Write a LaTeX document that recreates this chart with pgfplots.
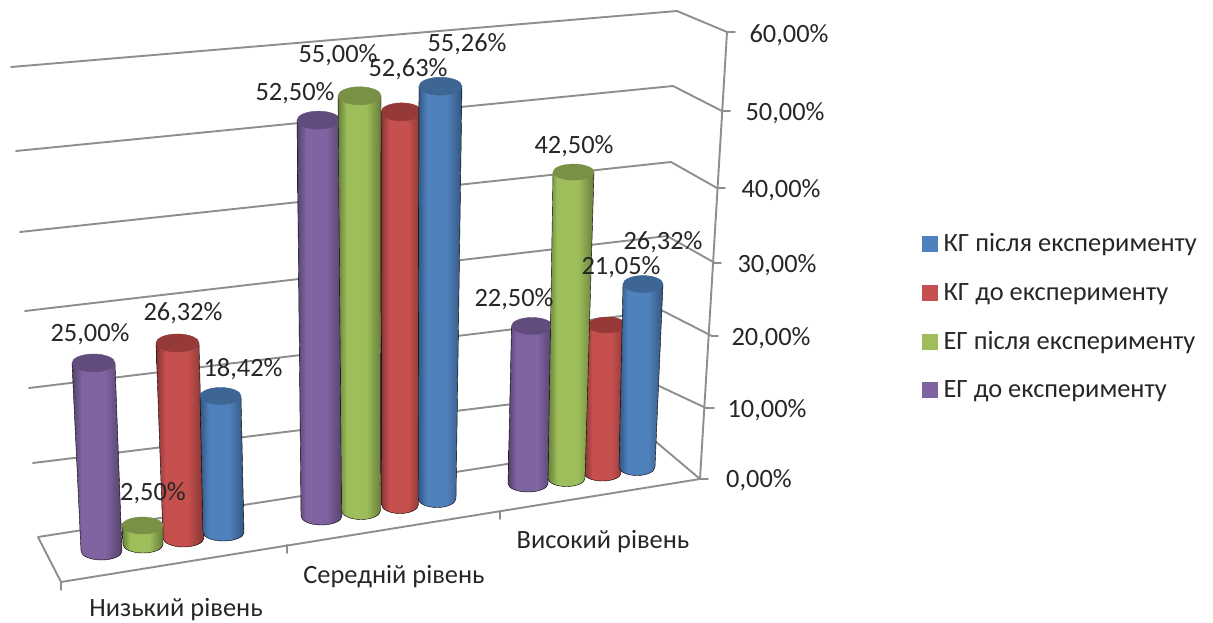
\documentclass[border=0pt]{standalone}
\usepackage{pgfplots}
\usepackage{pgfplotstable}
\usepackage{fontspec}
\pgfplotsset{compat=1.18}
\setmainfont{Carlito}

\definecolor{axisgray}{HTML}{8E8E8E}
\definecolor{labeltext}{HTML}{262626}
\definecolor{blueC}{HTML}{4F81BD}
\definecolor{redC}{HTML}{C6504E}
\definecolor{greenC}{HTML}{9DBE5A}
\definecolor{purpleC}{HTML}{8064A2}
\definecolor{blueCap}{HTML}{3D6695}
\definecolor{redCap}{HTML}{953A38}
\definecolor{greenCap}{HTML}{799145}
\definecolor{purpleCap}{HTML}{624C7E}

% Side shading of the cylinder bodies: dark rims, a flat light middle
\pgfdeclarehorizontalshading{blueBody}{100bp}{color(0bp)=(blueC!66!black); color(25bp)=(blueC!66!black); color(35bp)=(blueC); color(58bp)=(blueC); color(75bp)=(blueC!66!black); color(100bp)=(blueC!66!black)}
\pgfdeclarehorizontalshading{redBody}{100bp}{color(0bp)=(redC!66!black); color(25bp)=(redC!66!black); color(35bp)=(redC); color(58bp)=(redC); color(75bp)=(redC!66!black); color(100bp)=(redC!66!black)}
\pgfdeclarehorizontalshading{greenBody}{100bp}{color(0bp)=(greenC!66!black); color(25bp)=(greenC!66!black); color(35bp)=(greenC); color(58bp)=(greenC); color(75bp)=(greenC!66!black); color(100bp)=(greenC!66!black)}
\pgfdeclarehorizontalshading{purpleBody}{100bp}{color(0bp)=(purpleC!66!black); color(25bp)=(purpleC!66!black); color(35bp)=(purpleC); color(58bp)=(purpleC); color(75bp)=(purpleC!66!black); color(100bp)=(purpleC!66!black)}

\pgfdeclareplotmark{blank}{}

% One cylinder, drawn from the top centre down to the base
\newcommand{\drawcyl}[2]{%
  \path[shading=#1]
    (-\rt pt,0pt) -- (\dx pt-\rb pt,-\barh pt)
    arc[start angle=180,end angle=360,x radius=\rb pt,y radius=\ry pt]
    -- (\rt pt,0pt) -- cycle;
  \fill[#2] (0pt,0pt) ellipse[x radius=\rt pt,y radius=\ry pt];
}

% value, base centre (xb,yb), pixels per percent up (k) and sideways (l), radii
\pgfplotstableread{
v     xb     yb     k     l      rb    rt    ry
25.00 101.5  551.0  7.52  0.320  20.5  21.5  9
52.50 321.5  516.0  7.54  0.057  20.5  21.5  9
22.50 528.0  483.5  7.00 -0.178  20.0  20.5  8.5
}\egBefore

\pgfplotstableread{
v     xb     yb     k     l      rb    rt    ry
2.50  143.0  544.5  7.60  0.200  20.0  20.5  8.5
55.00 361.0  510.5  7.54  0.027  19.5  21.5  9
42.50 566.5  478.5  7.21 -0.165  18.5  20.5  8
}\egAfter

\pgfplotstableread{
v     xb     yb     k     l      rb    rt    ry
26.32 183.5  538.0  7.41  0.228  20.5  21.5  9
52.63 400.0  504.5  7.46 -0.029  18.5  20.5  9
21.05 602.5  473.0  7.03 -0.214  18.5  19.0  8
}\kgBefore

\pgfplotstableread{
v     xb     yb     k     l      rb    rt    ry
18.42 223.5  532.5  7.41  0.163  20.5  20.5  8.5
55.26 437.0  498.5  7.46 -0.063  19.0  21.5  9
26.32 637.0  467.0  6.95 -0.228  18.0  20.0  8.5
}\kgAfter

% Data labels: value and the centre of its text
\pgfplotstableread{
v     lx   ly
25.00 90   333
26.32 183  312
18.42 243  368
2.50  153  492
52.50 295  92
55.00 338  54
52.63 408  68
55.26 467  43
42.50 574  145
26.32 663  241
21.05 621  266
22.50 514  298
}\barlabels

% Value axis labels
\pgfplotstableread{
v     lx   ly
60    789  34
50    785  112
40    781  189
30    777  264
20    771  337
10    767  409
0     759  479
}\ticklabels

\begin{document}
\begin{tikzpicture}
\useasboundingbox (0pt,0pt) rectangle (1213pt,623pt);
\begin{axis}[
  at={(0pt,0pt)}, anchor=south west,
  x=1pt, y=1pt, xmin=0, xmax=1213, ymin=0, ymax=623,
  y dir=reverse, hide axis, clip=false,
  /pgf/number format/assume math mode=true,
  cyl/.style 2 args={
    only marks, scatter, mark=blank, point meta=\thisrow{v},
    visualization depends on={\thisrow{v}*\thisrow{k} \as \barh},
    visualization depends on={\thisrow{v}*\thisrow{l} \as \dx},
    visualization depends on={\thisrow{rb} \as \rb},
    visualization depends on={\thisrow{rt} \as \rt},
    visualization depends on={\thisrow{ry} \as \ry},
    scatter/@pre marker code/.code={\drawcyl{#1}{#2}\scope},
    scatter/@post marker code/.code={\endscope},
    forget plot
  },
  wall/.style={axisgray, line width=1.9pt, line cap=round, line join=round, no marks, forget plot},
  valuelabels/.style={
    only marks, mark=blank, forget plot, point meta=\thisrow{v},
    nodes near coords={\pgfmathprintnumber[fixed,fixed zerofill,precision=2,use comma]{\pgfplotspointmeta}\%},
    nodes near coords style={anchor=center, inner sep=0pt, yshift=-1pt, text=labeltext, font=\fontsize{26.4}{26.4}\selectfont}
  },
  legend style={
    at={(axis cs:922,231.5)}, anchor=north west, draw=none, fill=none,
    inner sep=0pt, row sep=25.8pt, font=\fontsize{26.4}{30}\selectfont,
    text=labeltext, cells={anchor=west},
    /tikz/every odd column/.style={column sep=4pt}
  },
]
% Back walls: gridlines running along the back and along the right side
\addplot[wall] coordinates {(11,67) (677,11) (727,32)};
\addplot[wall] coordinates {(16,151) (673,86) (722,111)};
\addplot[wall] coordinates {(20,232) (671,162) (717,188)};
\addplot[wall] coordinates {(25,311) (667,236) (715,263)};
\addplot[wall] coordinates {(29,388) (663,311) (712,336)};
\addplot[wall] coordinates {(33,463) (659,386) (706,408)};
% Floor outline and its category ticks
\addplot[wall] coordinates {(38,537) (655,441) (700,479) (61,582) (38,537)};
\addplot[wall] coordinates {(61,582) (61,590)};
\addplot[wall] coordinates {(287,545) (287,553)};
\addplot[wall] coordinates {(500,511) (500,519)};
% Value axis with its ticks
\addplot[wall] coordinates {(727,32) (700,479)};
\addplot[wall] coordinates {(727,32) (735,32)};
\addplot[wall] coordinates {(722,111) (730,111)};
\addplot[wall] coordinates {(717,188) (725,188)};
\addplot[wall] coordinates {(715,263) (721,263)};
\addplot[wall] coordinates {(712,336) (718,336)};
\addplot[wall] coordinates {(706,408) (714,408)};
\addplot[wall] coordinates {(700,479) (708,479)};

% Cylinders, back to front
\addplot[cyl={purpleBody}{purpleCap}] table[x expr=\thisrow{xb}-\thisrow{v}*\thisrow{l}, y expr=\thisrow{yb}-\thisrow{v}*\thisrow{k}] {\egBefore};
\addplot[cyl={redBody}{redCap}] table[x expr=\thisrow{xb}-\thisrow{v}*\thisrow{l}, y expr=\thisrow{yb}-\thisrow{v}*\thisrow{k}] {\kgBefore};
\addplot[cyl={greenBody}{greenCap}] table[x expr=\thisrow{xb}-\thisrow{v}*\thisrow{l}, y expr=\thisrow{yb}-\thisrow{v}*\thisrow{k}] {\egAfter};
\addplot[cyl={blueBody}{blueCap}] table[x expr=\thisrow{xb}-\thisrow{v}*\thisrow{l}, y expr=\thisrow{yb}-\thisrow{v}*\thisrow{k}] {\kgAfter};

% Texts stay on top of the cylinders
\addplot[valuelabels] table[x=lx, y=ly] {\barlabels};
\addplot[valuelabels] table[x=lx, y=ly] {\ticklabels};

\node[text=labeltext, inner sep=0pt, font=\fontsize{26.4}{26.4}\selectfont] at (axis cs:176,610) {Низький рівень};
\node[text=labeltext, inner sep=0pt, font=\fontsize{26.4}{26.4}\selectfont] at (axis cs:394,577) {Середній рівень};
\node[text=labeltext, inner sep=0pt, font=\fontsize{26.4}{26.4}\selectfont] at (axis cs:603,542) {Високий рівень};

\addlegendimage{legend image code/.code={\fill[blueC] (0pt,-7.5pt) rectangle (15pt,7.5pt);}}
\addlegendentry{КГ після експерименту}
\addlegendimage{legend image code/.code={\fill[redC] (0pt,-7.5pt) rectangle (15pt,7.5pt);}}
\addlegendentry{КГ до експерименту}
\addlegendimage{legend image code/.code={\fill[greenC] (0pt,-7.5pt) rectangle (15pt,7.5pt);}}
\addlegendentry{ЕГ після експерименту}
\addlegendimage{legend image code/.code={\fill[purpleC] (0pt,-7.5pt) rectangle (15pt,7.5pt);}}
\addlegendentry{ЕГ до експерименту}
\end{axis}
\end{tikzpicture}
\end{document}
